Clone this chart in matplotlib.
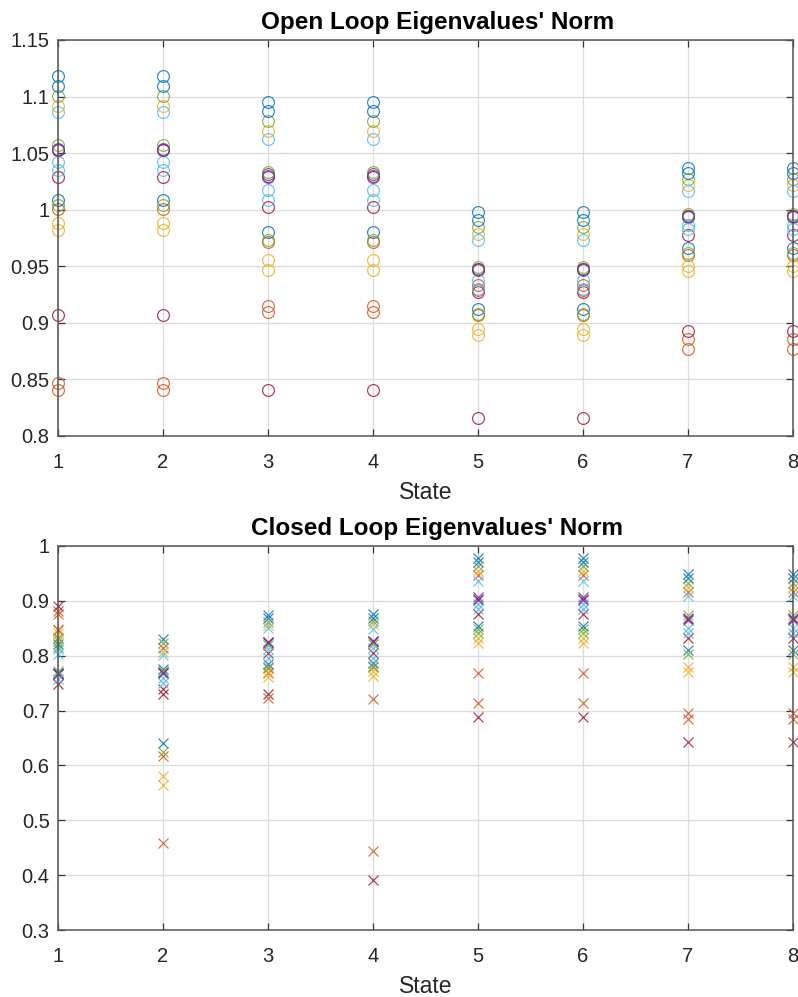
import numpy as np
import matplotlib
matplotlib.use("Agg")
import matplotlib.pyplot as plt

plt.rcParams['font.family'] = ['Liberation Sans', 'DejaVu Sans']

# eigenvalue norms per state, 20 eigenvalues each (column order = line order)
states = [1, 2, 3, 4, 5, 6, 7, 8]

ol_s1 = [1.1185, 1.0009, 1.0920, 1.0538, 1.1009, 1.0860, 1.0288, 1.1097, 0.8470, 0.9882,
         1.0524, 1.0568, 1.0420, 0.9068, 1.0082, 0.8406, 0.9818, 1.0530, 1.0038, 1.0347]
ol_s2 = list(ol_s1)
ol_s3 = [1.0956, 0.9715, 1.0694, 1.0312, 1.0782, 1.0626, 1.0024, 1.0868, 0.9147, 0.9553,
         1.0288, 1.0332, 1.0171, 0.8406, 0.9803, 0.9097, 0.9471, 1.0300, 0.9735, 1.0088]
ol_s4 = list(ol_s3)
ol_s5 = [0.9980, 0.9065, 0.9788, 0.9479, 0.9847, 0.9729, 0.9274, 0.9912, 0.9332, 0.8950,
         0.9465, 0.9494, 0.9382, 0.8156, 0.9118, 0.9290, 0.8891, 0.9472, 0.9082, 0.9303]
ol_s6 = list(ol_s5)
ol_s7 = [1.0368, 0.9603, 1.0221, 0.9947, 1.0271, 1.0162, 0.9779, 1.0324, 0.8853, 0.9500,
         0.9935, 0.9965, 0.9868, 0.8926, 0.9662, 0.8765, 0.9456, 0.9941, 0.9620, 0.9829]
ol_s8 = list(ol_s7)

cl_s1 = [0.8329, 0.8817, 0.8482, 0.7689, 0.8268, 0.8116, 0.8909, 0.8207, 0.8756, 0.8420,
         0.7660, 0.8165, 0.8024, 0.7476, 0.7680, 0.8460, 0.8300, 0.7675, 0.7720, 0.7567]
cl_s2 = [0.8299, 0.8146, 0.8067, 0.7689, 0.8226, 0.8006, 0.7384, 0.7750, 0.6177, 0.5811,
         0.7700, 0.7720, 0.7598, 0.7293, 0.6409, 0.4591, 0.5646, 0.7680, 0.6238, 0.7506]
cl_s3 = [0.8740, 0.7780, 0.8560, 0.8250, 0.8620, 0.8500, 0.8040, 0.8680, 0.7680, 0.7700,
         0.8240, 0.8200, 0.8120, 0.7300, 0.7850, 0.7220, 0.7620, 0.8245, 0.7800, 0.7950]
cl_s4 = [0.8756, 0.7800, 0.8573, 0.8268, 0.8634, 0.8494, 0.8055, 0.8695, 0.7213, 0.7720,
         0.8255, 0.8207, 0.8146, 0.3909, 0.7872, 0.4445, 0.7628, 0.8262, 0.7811, 0.7963]
cl_s5 = [0.9774, 0.9470, 0.9549, 0.9061, 0.9628, 0.9366, 0.8756, 0.9701, 0.7677, 0.8329,
         0.9018, 0.8482, 0.8939, 0.6878, 0.8543, 0.7140, 0.8238, 0.9040, 0.8420, 0.8860]
cl_s6 = list(cl_s5)
cl_s7 = [0.9488, 0.9152, 0.9244, 0.8695, 0.9323, 0.9091, 0.8329, 0.9409, 0.6957, 0.7799,
         0.8652, 0.8738, 0.8512, 0.6421, 0.8104, 0.6848, 0.7701, 0.8675, 0.8024, 0.8420]
cl_s8 = list(cl_s7)

open_loop = np.array([ol_s1, ol_s2, ol_s3, ol_s4, ol_s5, ol_s6, ol_s7, ol_s8])
closed_loop = np.array([cl_s1, cl_s2, cl_s3, cl_s4, cl_s5, cl_s6, cl_s7, cl_s8])

open_yticks = [0.8, 0.85, 0.9, 0.95, 1, 1.05, 1.1, 1.15]
closed_yticks = [0.3, 0.4, 0.5, 0.6, 0.7, 0.8, 0.9, 1]

# default line colour order
line_colors = ['#0072BD', '#D95319', '#EDB120', '#7E2F8E', '#77AC30', '#4DBEEE', '#A2142F']


def style_axes(ax, title, yticks):
    ax.set_xlim(1, 8)
    ax.set_ylim(yticks[0], yticks[-1])
    ax.set_xticks(states)
    ax.set_yticks(yticks)
    ax.set_yticklabels(['%g' % t for t in yticks])
    ax.grid(True, color='#dcdcdc', linewidth=0.9)
    ax.set_axisbelow(True)
    for sp in ax.spines.values():
        sp.set_color('#555555')
        sp.set_linewidth(1.1)
    ax.tick_params(direction='in', length=5, width=0.9, color='#333333',
                   top=True, right=True, labelsize=14.5, labelcolor='#262626')
    ax.tick_params(axis='x', pad=12)
    ax.tick_params(axis='y', pad=6)
    ax.set_title(title, fontsize=17.5, fontweight='bold', pad=8, x=0.516)
    ax.set_xlabel('State', fontsize=16.5, color='#262626', labelpad=7)


fig = plt.figure(figsize=(7.98, 9.97), dpi=100)
ax1 = fig.add_axes([0.0727, 0.5627, 0.921, 0.3972])
ax2 = fig.add_axes([0.0727, 0.0672, 0.921, 0.3852])

for k in range(open_loop.shape[1]):
    c = line_colors[k % len(line_colors)]
    ax1.plot(states, open_loop[:, k], 'o', mfc='none', mec=c, ms=8.5, mew=0.85,
             alpha=0.85, linestyle='none', clip_on=False)
    ax2.plot(states, closed_loop[:, k], 'x', color=c, ms=6.5, mew=0.85,
             alpha=0.85, linestyle='none', clip_on=False)

style_axes(ax1, "Open Loop Eigenvalues' Norm", open_yticks)
style_axes(ax2, "Closed Loop Eigenvalues' Norm", closed_yticks)

fig.savefig('out.png', dpi=100)
